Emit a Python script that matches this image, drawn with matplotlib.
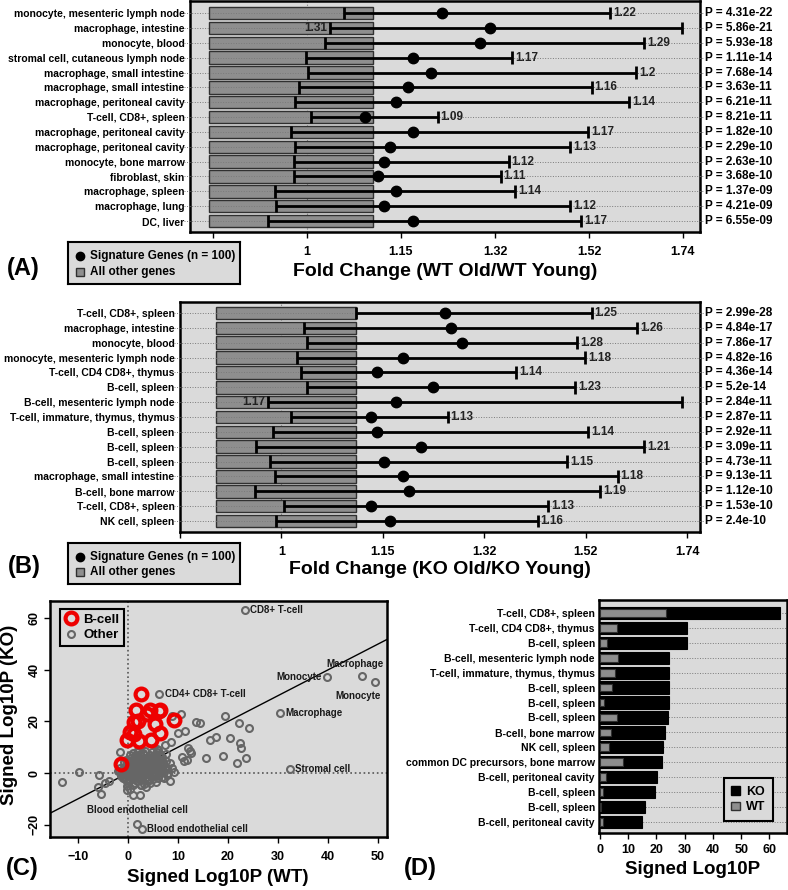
import numpy as np
import matplotlib
matplotlib.use("Agg")
import matplotlib.pyplot as plt
from matplotlib.lines import Line2D
from matplotlib.patches import Patch
from matplotlib.ticker import NullLocator

plt.rcParams["font.family"] = ["Liberation Sans", "DejaVu Sans"]
plt.rcParams["font.weight"] = "bold"
plt.rcParams["axes.labelweight"] = "bold"

W, H = 788, 890
BG = "#dadada"
BAR_GRAY = "#8e8e8e"
GRID = "#7a7a7a"

# ---- panel A: WT old / WT young ----
A_CELLS = [
    "monocyte, mesenteric lymph node", "macrophage, intestine", "monocyte, blood",
    "stromal cell, cutaneous lymph node", "macrophage, small intestine",
    "macrophage, small intestine", "macrophage, peritoneal cavity", "T-cell, CD8+, spleen",
    "macrophage, peritoneal cavity", "macrophage, peritoneal cavity", "monocyte, bone marrow",
    "fibroblast, skin", "macrophage, spleen", "macrophage, lung", "DC, liver",
]
A_FOLD = [1.22, 1.31, 1.29, 1.17, 1.2, 1.16, 1.14, 1.09, 1.17, 1.13, 1.12, 1.11, 1.14, 1.12, 1.17]
A_LO = [1.056, 1.034, 1.027, 0.999, 1.001, 0.988, 0.982, 1.006, 0.977, 0.982, 0.981, 0.981, 0.954, 0.955, 0.944]
A_HI = [1.564, 1.739, 1.644, 1.353, 1.625, 1.522, 1.608, 1.213, 1.514, 1.474, 1.347, 1.331, 1.359, 1.474, 1.498]
A_PVAL = ["4.31e-22", "5.86e-21", "5.93e-18", "1.11e-14", "7.68e-14", "3.63e-11", "6.21e-11",
          "8.21e-11", "1.82e-10", "2.29e-10", "2.63e-10", "3.68e-10", "1.37e-09", "4.21e-09", "6.55e-09"]
A_OTHER = 1.102

# ---- panel B: KO old / KO young ----
B_CELLS = [
    "T-cell, CD8+, spleen", "macrophage, intestine", "monocyte, blood",
    "monocyte, mesenteric lymph node", "T-cell, CD4 CD8+, thymus", "B-cell, spleen",
    "B-cell, mesenteric lymph node", "T-cell, immature, thymus, thymus", "B-cell, spleen",
    "B-cell, spleen", "B-cell, spleen", "macrophage, small intestine", "B-cell, bone marrow",
    "T-cell, CD8+, spleen", "NK cell, spleen",
]
B_FOLD = [1.25, 1.26, 1.28, 1.18, 1.14, 1.23, 1.17, 1.13, 1.14, 1.21, 1.15, 1.18, 1.19, 1.13, 1.16]
B_LO = [1.107, 1.031, 1.035, 1.021, 1.027, 1.035, 0.982, 1.013, 0.988, 0.966, 0.984, 0.991, 0.964, 1.003, 0.993]
B_HI = [1.528, 1.626, 1.498, 1.514, 1.378, 1.494, 1.728, 1.255, 1.520, 1.641, 1.478, 1.583, 1.546, 1.440, 1.419]
B_PVAL = ["2.99e-28", "4.84e-17", "7.86e-17", "4.82e-16", "4.36e-14", "5.2e-14", "2.84e-11",
          "2.87e-11", "2.92e-11", "3.09e-11", "4.73e-11", "9.13e-11", "1.12e-10", "1.53e-10", "2.4e-10"]
B_OTHER = 1.107

FOLD_TICKS = 2 ** np.array([-0.2, 0.0, 0.2, 0.4, 0.6, 0.8])
FOLD_TICK_LABELS = ["", "1", "1.15", "1.32", "1.52", "1.74"]

# ---- panel C: signed log10P, WT vs KO ----
BCELL_WT = [2.5, 1.5, 4.3, 6.3, 6.1, 3.8, 2.0, 1.2, 5.4, 9.1, 0.3, 1.2, 6.4, -0.3, 2.1, 4.5, -1.5]
BCELL_KO = [30.6, 24.3, 24.4, 24.4, 24.0, 22.8, 20.2, 19.6, 19.0, 20.5, 15.8, 15.0, 15.4, 12.8, 12.4, 12.8, 3.5]
# first nine are the labelled cell types
OTHER_WT = [
    23.3, 39.8, 46.7, 49.4, 30.3, 32.3, 6.2, 1.8, 2.7,
    -9.8, -13.1, -5.8, -6.1, -5.5, -4.7, -3.8, -1.7, -0.3, 0.4, 1.0, 2.4, 3.6, 2.6, 3.1,
    4.4, 5.6, 8.4, 9.2, 8.7, 8.3, 8.6, 7.3, 5.7, 8.7, 10.6, 9.9, 11.4, 11.9, 12.3, 12.5,
    10.7, 11.2, 11.7, 13.5, 14.4, 15.5, 16.4, 17.6, 18.9, 19.4, 20.4, 21.7, 22.2, 22.3,
    22.5, 23.6, 24.1,
]
OTHER_KO = [
    63.3, 37.2, 37.6, 35.4, 23.1, 1.5, 30.7, -19.9, -21.6,
    0.3, -3.4, -0.8, -5.6, -8.0, -3.9, -3.1, 8.0, -6.5, -6.0, -8.4, -8.4, -5.6, -4.7, -4.4,
    -3.9, -3.4, -3.0, 0.4, 1.8, 3.9, 12.1, 10.9, 9.5, 22.1, 22.8, 15.4, 16.4, 9.9, 8.4, 7.6,
    6.1, 4.6, 5.0, 19.9, 19.3, 5.9, 12.9, 13.9, 6.6, 22.1, 13.6, 3.8, 19.4, 11.5,
    9.6, 6.0, 17.3,
]
# dense blob of cell types near the origin
CLUSTER_WT = [
    -1.2, -0.8, -0.5, 0.0, 0.3, 0.5, 0.8, 1.0, 1.2, 1.5, 1.8, 2.0, 2.2, 2.5, 2.8, 3.0,
    3.2, 3.5, 3.8, 4.0, 4.3, 4.5, 4.8, 5.0, 5.3, 5.6, 6.0, 6.3, 6.6, 7.0, 7.3, 0.2, 0.6,
    1.3, 2.4, -0.3, 1.0, 2.0, 3.0, 4.0, 5.5, 6.5, -1.0, 0.0, 1.7, 3.3, -1.6, 0.5, 2.6,
    3.6, 4.6, 1.5, 7.8, 8.0, 6.8, 2.0, 3.0, 5.8, -0.5, 0.9, 2.6, -0.2, -2.0, 1.1, 4.1,
    5.1, 6.9, 0.1, 2.9,
    -1.4, -1.1, -0.9, -0.7, -0.6, -0.4, -0.2, -0.1, 0.1, 0.2, 0.3, 0.4, 0.6, 0.7, 0.8,
    0.9, 1.1, 1.2, 1.3, 1.4, 1.6, 1.7, 1.8, 1.9, 2.1, 2.2, 2.3, 2.5, 2.6, 2.7, 2.9, 3.0,
    3.1, 3.3, 3.4, 3.6, 3.7, 3.9, 4.0, 4.2, 4.3, 4.5, 4.6, 4.8, 4.9, 5.1, 5.2, 5.4, 5.5,
    5.7, 5.9, 6.1, 6.2, 6.4, 6.6, 6.8, 7.0, 7.2, 7.5, 7.7, -1.8, -1.5, 0.0, 1.4, 3.9,
    5.0, 6.0, 7.1, 2.0, 3.4, 4.7, 1.0, 0.4, -0.8, 6.0, 7.5,
]
CLUSTER_KO = [
    0.5, -0.5, 1.5, 0.0, 1.0, -1.0, 2.0, 0.5, 3.0, -0.5, 1.5, 4.0, 2.5, 0.5, 5.5, 3.0,
    1.5, 6.0, 4.0, 2.0, 7.0, 5.0, 3.0, 1.0, 6.5, 4.5, 2.5, 7.5, 5.0, 3.5, 1.5, 4.5, 6.0,
    7.0, 7.2, 3.0, -2.0, -1.5, -1.0, -0.5, -0.8, 0.5, -2.0, -3.0, -3.2, -2.5, 1.8, 2.8, 6.5,
    0.0, 1.5, 5.0, 2.0, 0.0, -1.5, 8.0, 7.8, 8.0, 5.0, -4.5, -4.8, -5.0, 0.8, -1.2, 5.5,
    3.8, 4.2, -2.2, -0.3,
    -0.2, 1.2, 2.4, -1.4, 0.3, -2.6, 1.9, 3.6, -1.2, 0.6, 2.2, -0.4, 3.8, 1.3, -2.3,
    5.2, 2.7, -0.9, 0.9, 4.3, 6.4, 2.0, -1.8, 3.4, 0.2, 5.8, 1.6, -2.7, 3.9, 2.2, -0.3, 4.8,
    6.9, 0.8, 2.6, -1.6, 5.3, 3.4, 1.0, -2.2, 4.2, 6.3, 2.3, 0.2, 5.8, 3.6, -1.3, 1.9, 7.3,
    3.0, 0.8, 5.4, -0.6, 3.9, 1.4, 6.1, 2.8, 0.3, 4.6, -0.9, 0.7, -1.0, -4.0, -3.8, -3.0,
    -2.4, -2.0, -1.8, 9.0, 8.6, 8.3, 7.9, 6.9, 4.1, 9.1, 7.5,
]

# ---- panel D: top KO hits ----
D_CELLS = [
    "T-cell, CD8+, spleen", "T-cell, CD4 CD8+, thymus", "B-cell, spleen",
    "B-cell, mesenteric lymph node", "T-cell, immature, thymus, thymus", "B-cell, spleen",
    "B-cell, spleen", "B-cell, spleen", "B-cell, bone marrow", "NK cell, spleen",
    "common DC precursors, bone marrow", "B-cell, peritoneal cavity", "B-cell, spleen",
    "B-cell, spleen", "B-cell, peritoneal cavity",
]
D_KO = [63.8, 30.9, 30.7, 24.4, 24.4, 24.4, 24.3, 24.0, 23.1, 22.4, 22.1, 20.2, 19.6, 15.8, 15.0]
D_WT = [23.3, 6.0, 2.5, 6.3, 5.5, 4.3, 1.5, 6.1, 3.8, 3.2, 8.3, 2.0, 1.2, 0.3, 1.2]


def px_rect(x0, y0, x1, y1):
    return [x0 / W, 1 - y1 / H, (x1 - x0) / W, (y1 - y0) / H]


def fig_text(fig, x, y, s, **kw):
    fig.text(x / W, 1 - y / H, s, ha="center", va="center", **kw)


def draw_forest(ax, cells, fold, lo, hi, pvals, other, base, xlim, ylim):
    y = np.arange(len(cells))
    ax.set_facecolor(BG)
    ax.axvline(1, color=GRID, ls=":", lw=0.8, zorder=1)
    ax.barh(y, other - base, left=base, height=0.84, color=BAR_GRAY,
            edgecolor="#303030", lw=1, zorder=2)
    for yi in y:
        ax.plot([-0.012, 1.008], [yi, yi], transform=ax.get_yaxis_transform(),
                color=GRID, ls=":", lw=0.7, clip_on=False, zorder=3)
    ax.hlines(y, lo, hi, color="black", lw=2, zorder=4)
    ax.vlines(lo, y - 0.42, y + 0.42, color="black", lw=2, zorder=4)
    ax.vlines(hi, y - 0.42, y + 0.42, color="black", lw=2, zorder=4)
    ax.plot(fold, y, "o", color="black", ms=7.5, zorder=5)
    for yi, f, l, h, p in zip(y, fold, lo, hi, pvals):
        if h > 1.7:
            ax.annotate(f"{f:g}", (l, yi), xytext=(-2, 0), textcoords="offset points",
                        ha="right", va="center", fontsize=8.5, color="#222222", zorder=6)
        else:
            ax.annotate(f"{f:g}", (h, yi), xytext=(2, 0), textcoords="offset points",
                        ha="left", va="center", fontsize=8.5, color="#222222", zorder=6)
        ax.text(1.01, yi, f"P = {p}", transform=ax.get_yaxis_transform(),
                ha="left", va="center", fontsize=8.5)
    ax.set_xscale("log", base=2)
    ax.set_xlim(*xlim)
    ax.set_xticks(FOLD_TICKS)
    ax.set_xticklabels(FOLD_TICK_LABELS)
    ax.xaxis.set_minor_locator(NullLocator())
    ax.set_yticks(y)
    ax.set_yticklabels(cells, fontsize=7.5)
    ax.tick_params(axis="y", length=0, pad=4)
    ax.tick_params(axis="x", length=4, width=1, pad=6, labelsize=9)
    ax.set_ylim(*ylim)
    for s in ax.spines.values():
        s.set_linewidth(1.8)


def draw_key(fig, rect):
    kax = fig.add_axes(rect)
    kax.set_facecolor(BG)
    kax.set_xlim(0, 1)
    kax.set_ylim(0, 1)
    kax.set_xticks([])
    kax.set_yticks([])
    for s in kax.spines.values():
        s.set_linewidth(1.5)
    kax.plot([0.07], [0.67], "o", color="black", ms=6)
    kax.text(0.13, 0.67, "Signature Genes (n = 100)", va="center", fontsize=8.5)
    kax.plot([0.07], [0.29], "s", mfc=BAR_GRAY, mec="#303030", ms=6)
    kax.text(0.13, 0.29, "All other genes", va="center", fontsize=8.5)


fig = plt.figure(figsize=(W / 100, H / 100), dpi=100)

# panel A
ax_a = fig.add_axes(px_rect(190, 1, 700, 232))
draw_forest(ax_a, A_CELLS, A_FOLD, A_LO, A_HI, A_PVAL, A_OTHER, 0.866,
            (2 ** -0.2489, 2 ** 0.8362), (14.74, -0.82))
draw_key(fig, px_rect(68, 242, 240, 284))
fig_text(fig, 445, 271, "Fold Change (WT Old/WT Young)", fontsize=14)
fig_text(fig, 23, 268, "(A)", fontsize=17)

# panel B
ax_b = fig.add_axes(px_rect(180, 302, 700, 532))
draw_forest(ax_b, B_CELLS, B_FOLD, B_LO, B_HI, B_PVAL, B_OTHER, 0.914,
            (2 ** -0.1657, 2 ** 0.8248), (14.74, -0.74))
draw_key(fig, px_rect(68, 543, 240, 584))
fig_text(fig, 440, 570, "Fold Change (KO Old/KO Young)", fontsize=14)
fig_text(fig, 24, 567, "(B)", fontsize=17)

# panel C
ax_c = fig.add_axes(px_rect(50, 601, 387, 837))
ax_c.set_facecolor(BG)
ax_c.axhline(0, color="#555555", ls=":", lw=1.2, zorder=1)
ax_c.axvline(0, color="#555555", ls=":", lw=1.2, zorder=1)
ax_c.axline((0, 0), slope=1, color="black", lw=1, zorder=2)
gray_kw = dict(ls="none", marker="o", mfc="none", mec="#666666", ms=5, mew=1.5, zorder=3)
ax_c.plot(CLUSTER_WT, CLUSTER_KO, **gray_kw)
ax_c.plot(OTHER_WT, OTHER_KO, **gray_kw)
ax_c.plot(BCELL_WT, BCELL_KO, "o", mfc="none", mec="#ee0000", ms=8.5, mew=3, zorder=4)
lab_kw = dict(fontsize=7, color="#1a1a1a", va="center", zorder=5)
ax_c.annotate("CD8+ T-cell", (OTHER_WT[0], OTHER_KO[0]), xytext=(4, 0), textcoords="offset points", ha="left", **lab_kw)
ax_c.annotate("Monocyte", (OTHER_WT[1], OTHER_KO[1]), xytext=(-4, 0), textcoords="offset points", ha="right", **lab_kw)
ax_c.annotate("Macrophage", (OTHER_WT[2], OTHER_KO[2]), xytext=(-5, 9), textcoords="offset points", ha="center", **lab_kw)
ax_c.annotate("Monocyte", (OTHER_WT[3], OTHER_KO[3]), xytext=(-12, -10), textcoords="offset points", ha="center", **lab_kw)
ax_c.annotate("Macrophage", (OTHER_WT[4], OTHER_KO[4]), xytext=(4, 0), textcoords="offset points", ha="left", **lab_kw)
ax_c.annotate("Stromal cell", (OTHER_WT[5], OTHER_KO[5]), xytext=(4, 0), textcoords="offset points", ha="left", **lab_kw)
ax_c.annotate("CD4+ CD8+ T-cell", (OTHER_WT[6], OTHER_KO[6]), xytext=(4, 0), textcoords="offset points", ha="left", **lab_kw)
ax_c.annotate("Blood endothelial cell", (OTHER_WT[7], OTHER_KO[7]), xytext=(0, 10), textcoords="offset points", ha="center", **lab_kw)
ax_c.annotate("Blood endothelial cell", (OTHER_WT[8], OTHER_KO[8]), xytext=(4, 0), textcoords="offset points", ha="left", **lab_kw)
ax_c.set_xlim(-15.6, 51.8)
ax_c.set_ylim(-24.8, 66.7)
ax_c.set_xticks([-10, 0, 10, 20, 30, 40, 50])
ax_c.set_yticks([-20, 0, 20, 40, 60])
ax_c.tick_params(axis="x", length=4, width=1, pad=6, labelsize=9)
ax_c.tick_params(axis="y", length=4, width=1, pad=3, labelsize=9)
for lbl in ax_c.get_yticklabels():
    lbl.set_rotation(90)
    lbl.set_va("center")
for s in ax_c.spines.values():
    s.set_linewidth(1.8)
c_handles = [
    Line2D([], [], marker="o", ls="none", mfc="none", mec="#ee0000", ms=8.5, mew=3, label="B-cell"),
    Line2D([], [], marker="o", ls="none", mfc="none", mec="#666666", ms=5, mew=1.5, label="Other"),
]
leg_c = ax_c.legend(handles=c_handles, loc="upper left", bbox_to_anchor=(0.03, 0.966),
                    borderaxespad=0, fontsize=9.5, frameon=True, fancybox=False,
                    handlelength=1.0, handletextpad=0.4, borderpad=0.35, labelspacing=0.25)
leg_c.get_frame().set_facecolor(BG)
leg_c.get_frame().set_edgecolor("black")
leg_c.get_frame().set_linewidth(1.5)
leg_c.get_frame().set_alpha(1)
fig_text(fig, 218, 878, "Signed Log10P (WT)", fontsize=13.5)
fig.text(10 / W, 1 - 715 / H, "Signed Log10P (KO)", rotation=90, ha="center", va="center", fontsize=13.5)
fig_text(fig, 22, 868, "(C)", fontsize=17)

# panel D
ax_d = fig.add_axes(px_rect(599, 600, 787, 833))
ax_d.set_facecolor(BG)
yd = np.arange(len(D_CELLS))
for yi in yd:
    ax_d.axhline(yi, color=GRID, ls=":", lw=0.7, zorder=1)
ax_d.barh(yd, D_KO, height=0.82, color="black", edgecolor="black", lw=0.8, zorder=2, label="KO")
ax_d.barh(yd, D_WT, height=0.52, color=BAR_GRAY, edgecolor="#303030", lw=0.8, zorder=3, label="WT")
ax_d.set_xlim(-0.3, 66.2)
ax_d.set_ylim(14.74, -0.87)
ax_d.set_xticks([0, 10, 20, 30, 40, 50, 60])
ax_d.set_yticks(yd)
ax_d.set_yticklabels(D_CELLS, fontsize=7.5)
ax_d.tick_params(axis="y", length=0, pad=3)
ax_d.tick_params(axis="x", length=4, width=1, pad=4, labelsize=9)
for s in ax_d.spines.values():
    s.set_linewidth(1.8)
d_handles = [
    Patch(facecolor="black", edgecolor="black", label="KO"),
    Patch(facecolor=BAR_GRAY, edgecolor="#303030", label="WT"),
]
leg_d = ax_d.legend(handles=d_handles, loc="lower right", bbox_to_anchor=(0.926, 0.052),
                    borderaxespad=0, fontsize=9, frameon=True, fancybox=False,
                    handlelength=0.7, handleheight=0.7, handletextpad=0.5,
                    borderpad=0.6, labelspacing=0.3)
leg_d.get_frame().set_facecolor(BG)
leg_d.get_frame().set_edgecolor("black")
leg_d.get_frame().set_linewidth(1.5)
leg_d.get_frame().set_alpha(1)
fig_text(fig, 693, 870, "Signed Log10P", fontsize=13.5)
fig_text(fig, 420, 868, "(D)", fontsize=17)

fig.savefig("out.png", dpi=100, facecolor="white")
